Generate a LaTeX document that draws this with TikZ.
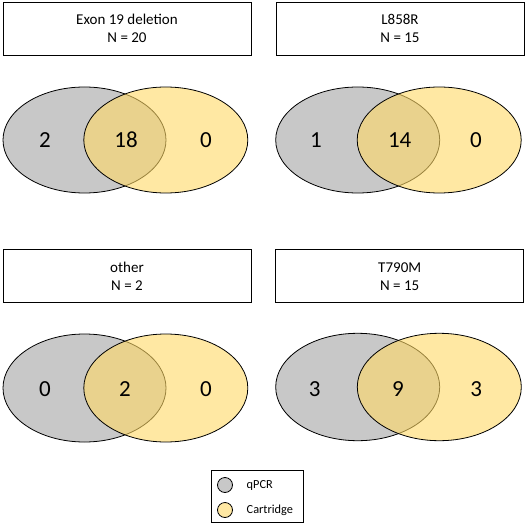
\documentclass[tikz,border=0pt]{standalone}
\usepackage{fontspec}
\setmainfont{Carlito}
\definecolor{vgray}{RGB}{200,200,200}
\definecolor{vyel}{RGB}{255,217,102}
\begin{document}
\begin{tikzpicture}[x=1pt,y=-1pt,
  titlebox/.style={draw,line width=0.9pt,minimum width=248pt,minimum height=53pt,inner sep=0pt,align=center,font=\fontsize{15}{18}\selectfont},
  setA/.style={draw,line width=0.8pt,fill=vgray},
  setB/.style={draw,line width=0.8pt,fill=vyel,fill opacity=0.6},
  count/.style={font=\fontsize{23}{26}\selectfont,inner sep=0pt},
  legbox/.style={draw,line width=0.9pt},
  legtext/.style={font=\fontsize{12.3}{14}\selectfont,anchor=west,inner sep=0pt}]
\useasboundingbox (0,0) rectangle (526,526);
% top-left
\node[titlebox] (t1) at (127,28.5) {Exon 19 deletion\\N = 20};
\draw[setA] (84.5,140) ellipse [x radius=81.5pt, y radius=53pt];
\draw[setB] (165.8,140) ellipse [x radius=82pt, y radius=53pt];
\node[count] (a1) at (45,140) {2};
\node[count] (b1) at (126,140) {18};
\node[count] (c1) at (206,140) {0};
% top-right
\node[titlebox] (t2) at (400,28.5) {L858R\\N = 15};
\draw[setA] (357.7,140) ellipse [x radius=82pt, y radius=53pt];
\draw[setB] (439.2,140) ellipse [x radius=82pt, y radius=53pt];
\node[count] (a2) at (316,140) {1};
\node[count] (b2) at (399.7,140) {14};
\node[count] (c2) at (476,140) {0};
% bottom-left
\node[titlebox] (t3) at (127,276) {other\\N = 2};
\draw[setA] (84.5,388) ellipse [x radius=81.5pt, y radius=54pt];
\draw[setB] (165.8,388) ellipse [x radius=82pt, y radius=54pt];
\node[count] (a3) at (45,389) {0};
\node[count] (b3) at (125,389) {2};
\node[count] (c3) at (206,389) {0};
% bottom-right
\node[titlebox] (t4) at (399.7,276.3) {T790M\\N = 15};
\draw[setA] (357.7,387) ellipse [x radius=82pt, y radius=53.7pt];
\draw[setB] (439.3,387) ellipse [x radius=82pt, y radius=53.7pt];
\node[count] (a4) at (314.7,389) {3};
\node[count] (b4) at (398,389) {9};
\node[count] (c4) at (476.3,389) {3};
% legend
\draw[legbox] (211.7,470.7) rectangle (303.3,522.7);
\draw[setA] (225,485) circle [radius=7.5pt];
\draw[draw,line width=0.8pt,fill=vyel!60] (225,510) circle [radius=7.5pt];
\node[legtext] (l1) at (246.5,485) {qPCR};
\node[legtext] (l2) at (246.5,510) {Cartridge};
\end{tikzpicture}
\end{document}
